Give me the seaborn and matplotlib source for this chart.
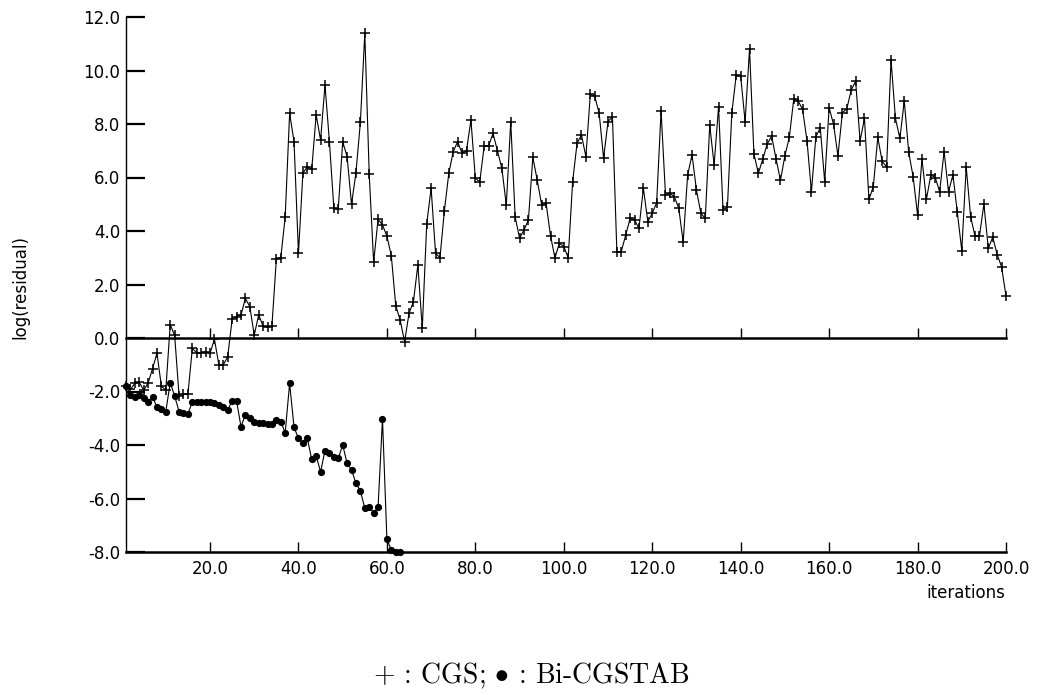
import numpy as np
import pandas as pd
import matplotlib
matplotlib.use("Agg")
import matplotlib.pyplot as plt
import seaborn as sns
from matplotlib.ticker import FormatStrFormatter

# ---- data ----
cgs_residual = [
    -1.78, -1.92, -1.70, -1.66, -1.95, -1.68, -1.15, -0.57, -1.80, -1.95,
    0.50, 0.10, -2.15, -2.10, -2.10, -0.39, -0.55, -0.55, -0.52, -0.57,
    -0.05, -1.00, -1.00, -0.70, 0.70, 0.80, 0.86, 1.48, 1.17, 0.11,
    0.86, 0.45, 0.40, 0.45, 2.95, 3.00, 4.53, 8.40, 7.34, 3.17,
    6.16, 6.40, 6.30, 8.34, 7.40, 9.46, 7.34, 4.85, 4.83, 7.34,
    6.78, 5.00, 6.18, 8.06, 11.39, 6.13, 2.83, 4.44, 4.23, 3.81,
    3.07, 1.21, 0.67, -0.14, 0.92, 1.36, 2.73, 0.36, 4.26, 5.60,
    3.17, 3.00, 4.76, 6.16, 6.97, 7.34, 6.90, 7.00, 8.15, 5.97,
    5.84, 7.18, 7.18, 7.65, 7.00, 6.34, 4.97, 8.09, 4.53, 3.73,
    4.04, 4.41, 6.75, 5.90, 4.97, 5.03, 3.82, 3.00, 3.54, 3.42,
    3.00, 5.84, 7.28, 7.59, 6.78, 9.11, 9.03, 8.40, 6.72, 8.09,
    8.28, 3.23, 3.23, 3.85, 4.47, 4.41, 4.10, 5.60, 4.35, 4.66,
    5.06, 8.49, 5.35, 5.41, 5.28, 4.85, 3.58, 6.09, 6.85, 5.53,
    4.66, 4.47, 7.96, 6.47, 8.65, 4.80, 4.88, 8.42, 9.83, 9.79,
    8.09, 10.80, 6.88, 6.16, 6.69, 7.25, 7.55, 6.69, 5.90, 6.81,
    7.50, 8.93, 8.86, 8.55, 7.37, 5.47, 7.52, 7.86, 5.84, 8.61,
    7.99, 6.81, 8.42, 8.57, 9.27, 9.60, 7.37, 8.21, 5.18, 5.66,
    7.50, 6.60, 6.40, 10.39, 8.21, 7.46, 8.86, 6.94, 6.03, 4.60,
    6.69, 5.18, 6.10, 6.00, 5.47, 6.97, 5.47, 6.10, 4.70, 3.27,
    6.40, 4.53, 3.81, 3.81, 5.00, 3.35, 3.77, 3.12, 2.66, 1.57,
]
bicgstab_residual = [
    -1.79, -2.13, -2.19, -2.13, -2.25, -2.38, -2.19, -2.59, -2.67, -2.75,
    -1.67, -2.17, -2.75, -2.80, -2.85, -2.38, -2.38, -2.38, -2.38, -2.38,
    -2.42, -2.50, -2.59, -2.69, -2.35, -2.35, -3.31, -2.88, -3.00, -3.13,
    -3.19, -3.19, -3.21, -3.21, -3.06, -3.13, -3.54, -1.70, -3.34, -3.75,
    -3.94, -3.75, -4.54, -4.41, -5.00, -4.21, -4.31, -4.44, -4.50, -4.00,
    -4.68, -4.93, -5.43, -5.71, -6.37, -6.30, -6.53, -6.33, -3.03, -7.53,
    -7.93, -8.00, -8.00,
]
cgs_iterations = np.arange(1, len(cgs_residual) + 1)
bicgstab_iterations = np.arange(1, len(bicgstab_residual) + 1)

x_ticks = [20, 40, 60, 80, 100, 120, 140, 160, 180, 200]
y_ticks = [-8, -6, -4, -2, 0, 2, 4, 6, 8, 10, 12]
x_label = "iterations"
y_label = "log(residual)"
legend_text = r"$+$ : CGS; $\bullet$ : Bi-CGSTAB"

# ---- style ----
sns.set_theme(style="white")
plt.rcParams["font.family"] = ["DejaVu Sans"]
plt.rcParams["axes.unicode_minus"] = False
plt.rcParams["mathtext.fontset"] = "cm"

W, H = 1037, 695
fig = plt.figure(figsize=(W / 100, H / 100), dpi=100)
ax = fig.add_axes([126 / W, 1 - 552 / H, (1006 - 126) / W, (552 - 17) / H])

df_cgs = pd.DataFrame({"iter": cgs_iterations, "res": cgs_residual})
df_bi = pd.DataFrame({"iter": bicgstab_iterations, "res": bicgstab_residual})

sns.lineplot(data=df_cgs, x="iter", y="res", ax=ax, color="black",
             linewidth=0.8, marker="+", markersize=6.5, markeredgewidth=1.1,
             markeredgecolor="black", estimator=None, sort=False)
sns.lineplot(data=df_bi, x="iter", y="res", ax=ax, color="black",
             linewidth=0.8, marker="o", markersize=5.2, markeredgewidth=0,
             markerfacecolor="black", estimator=None, sort=False)
for ln in ax.lines:
    ln.set_clip_on(False)

ax.set_xlim(1, 200)
ax.set_ylim(-8, 12)
ax.set_xlabel("")
ax.set_ylabel("")
ax.set_xticks(x_ticks)
ax.set_yticks(y_ticks)
ax.xaxis.set_major_formatter(FormatStrFormatter("%.1f"))
ax.yaxis.set_major_formatter(FormatStrFormatter("%.1f"))

for s in ["top", "right"]:
    ax.spines[s].set_visible(False)
ax.spines["left"].set_color("black")
ax.spines["left"].set_linewidth(1.0)
ax.spines["bottom"].set_color("black")
ax.spines["bottom"].set_linewidth(1.8)

ax.tick_params(axis="x", direction="in", length=7, width=1.0, pad=6,
               labelsize=12, colors="black", bottom=True, top=False)
ax.tick_params(axis="y", direction="in", length=14, width=1.6, pad=4,
               labelsize=12, colors="black", left=True, right=False)

# zero line with its own small ticks (secondary axis at y = 0)
zero_frac = (0 - (-8)) / (12 - (-8))
sec = ax.secondary_xaxis(zero_frac)
sec.set_xticks(x_ticks)
sec.spines["bottom"].set_linewidth(1.8)
sec.spines["bottom"].set_color("black")
sec.tick_params(axis="x", direction="in", length=7, width=1.0,
                labelbottom=False, labeltop=False, colors="black")

fig.text(1005 / W, 1 - 593 / H, x_label, ha="right", va="center",
         fontsize=12, color="black")
fig.text(20 / W, 1 - 287 / H, y_label, rotation=90, ha="center",
         va="center", fontsize=12, color="black")
fig.text(531 / W, 1 - 676 / H, legend_text, ha="center", va="center",
         fontsize=20, family="cmr10", color="black")

fig.savefig("out.png", dpi=100, facecolor="white")
